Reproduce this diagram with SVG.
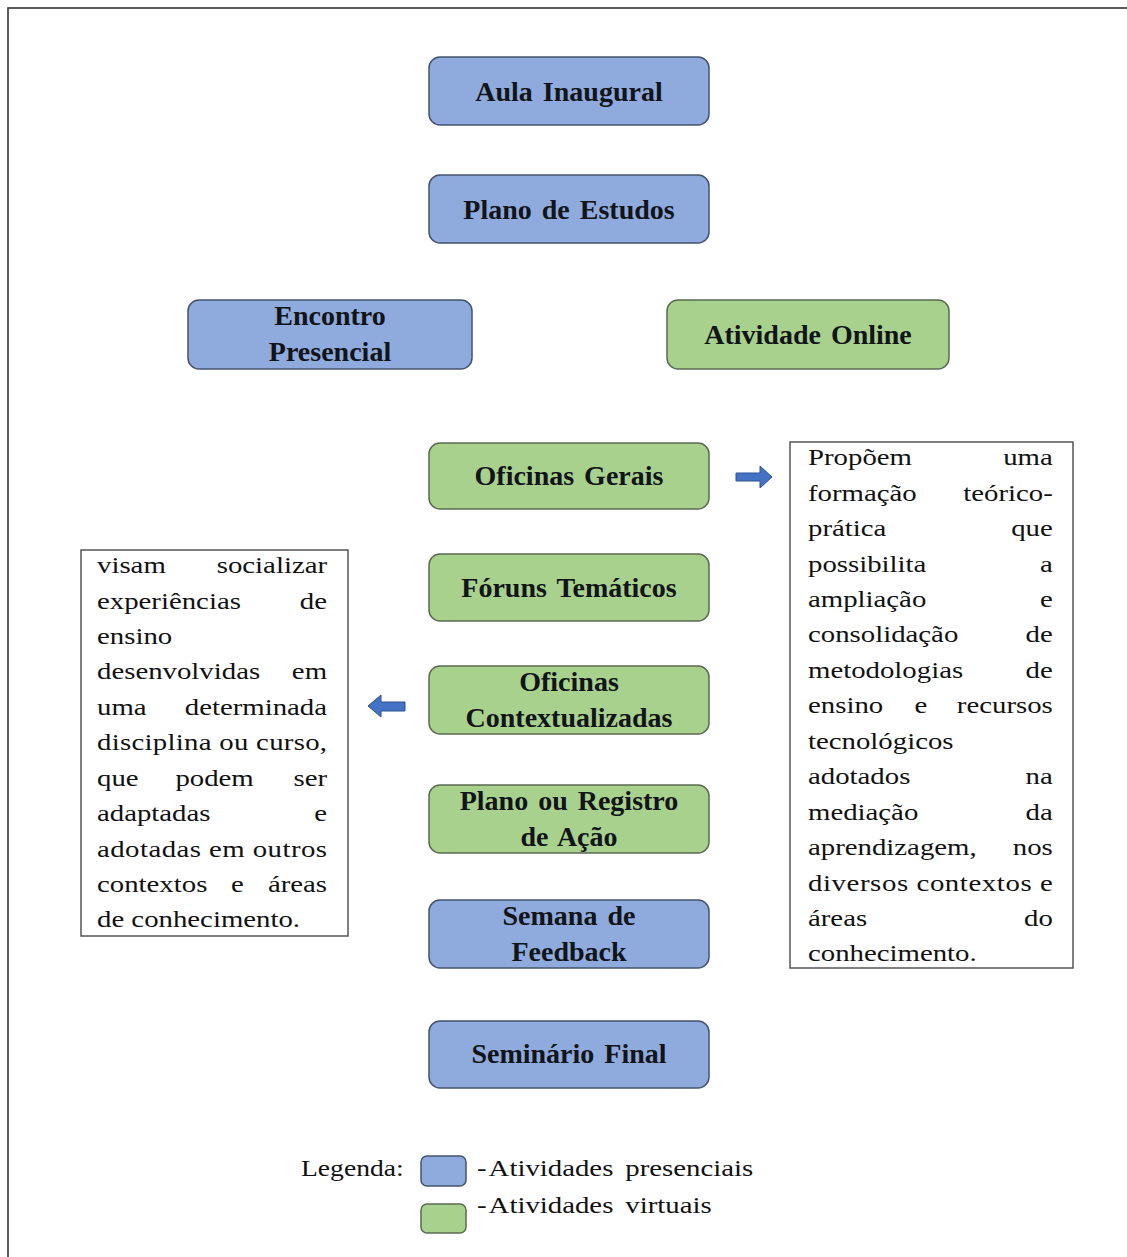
<svg xmlns="http://www.w3.org/2000/svg" width="1127" height="1257" viewBox="0 0 1127 1257">
<style>
.frame{fill:#ffffff;stroke:#333333;stroke-width:1.6}
.blue{fill:#8faadc;stroke:#44546a;stroke-width:1.5}
.green{fill:#a9d18e;stroke:#5b6b52;stroke-width:1.5}
.lbl{font-family:"Liberation Serif","Times New Roman",serif;font-weight:bold;font-size:28px;fill:#111418;text-anchor:middle;word-spacing:3px}
.tbox{fill:#ffffff;stroke:#555555;stroke-width:1.5}
.body{font-family:"Liberation Serif","Times New Roman",serif;font-size:24px;fill:#111111}
.e{text-anchor:end}
.m{text-anchor:middle}
.arrow{fill:#4472c4;stroke:#2f528f;stroke-width:1}
.leg{word-spacing:-3px}
</style>
<rect class="frame" x="8" y="8" width="1140" height="1270"/>

<g id="aula-inaugural"><rect class="blue" x="429" y="57" width="280" height="68" rx="11"/><text class="lbl" x="569" y="101">Aula Inaugural</text></g>
<g id="plano-de-estudos"><rect class="blue" x="429" y="175" width="280" height="68" rx="11"/><text class="lbl" x="569" y="219">Plano de Estudos</text></g>
<g id="encontro-presencial"><rect class="blue" x="188" y="300" width="284" height="69" rx="11"/><text class="lbl" x="330" y="325">Encontro</text><text class="lbl" x="330" y="361">Presencial</text></g>
<g id="atividade-online"><rect class="green" x="667" y="300" width="282" height="69" rx="11"/><text class="lbl" x="808" y="344">Atividade Online</text></g>
<g id="oficinas-gerais"><rect class="green" x="429" y="443" width="280" height="66" rx="11"/><text class="lbl" x="569" y="485">Oficinas Gerais</text></g>
<g id="foruns-tematicos"><rect class="green" x="429" y="554" width="280" height="67" rx="11"/><text class="lbl" x="569" y="597">Fóruns Temáticos</text></g>
<g id="oficinas-contextualizadas"><rect class="green" x="429" y="666" width="280" height="68" rx="11"/><text class="lbl" x="569" y="691">Oficinas</text><text class="lbl" x="569" y="727">Contextualizadas</text></g>
<g id="plano-registro"><rect class="green" x="429" y="785" width="280" height="68" rx="11"/><text class="lbl" x="569" y="810">Plano ou Registro</text><text class="lbl" x="569" y="846">de Ação</text></g>
<g id="semana-feedback"><rect class="blue" x="429" y="900" width="280" height="68" rx="11"/><text class="lbl" x="569" y="925">Semana de</text><text class="lbl" x="569" y="961">Feedback</text></g>
<g id="seminario-final"><rect class="blue" x="429" y="1021" width="280" height="67" rx="11"/><text class="lbl" x="569" y="1063">Seminário Final</text></g>

<g id="texto-oficinas-gerais">
<rect class="tbox" x="790" y="442" width="283" height="526"/>
<g class="body" transform="translate(808,0) scale(1.2,1)">
<text x="0" y="465">Propõem</text><text class="e" x="204" y="465">uma</text>
<text x="0" y="501">formação</text><text class="e" x="204" y="501">teórico-</text>
<text x="0" y="536">prática</text><text class="e" x="204" y="536">que</text>
<text x="0" y="572">possibilita</text><text class="e" x="204" y="572">a</text>
<text x="0" y="607">ampliação</text><text class="e" x="204" y="607">e</text>
<text x="0" y="642">consolidação</text><text class="e" x="204" y="642">de</text>
<text x="0" y="678">metodologias</text><text class="e" x="204" y="678">de</text>
<text x="0" y="713">ensino</text><text class="m" x="94" y="713">e</text><text class="e" x="204" y="713">recursos</text>
<text x="0" y="749">tecnológicos</text>
<text x="0" y="784">adotados</text><text class="e" x="204" y="784">na</text>
<text x="0" y="820">mediação</text><text class="e" x="204" y="820">da</text>
<text x="0" y="855">aprendizagem,</text><text class="e" x="204" y="855">nos</text>
<text x="0" y="891" textLength="204" lengthAdjust="spacing">diversos contextos e</text>
<text x="0" y="926">áreas</text><text class="e" x="204" y="926">do</text>
<text x="0" y="961">conhecimento.</text>
</g>
</g>

<g id="texto-oficinas-contextualizadas">
<rect class="tbox" x="81" y="550" width="267" height="386"/>
<g class="body" transform="translate(97,0) scale(1.2,1)">
<text x="0" y="573">visam</text><text class="e" x="191.7" y="573">socializar</text>
<text x="0" y="609">experiências</text><text class="e" x="191.7" y="609">de</text>
<text x="0" y="644">ensino</text>
<text x="0" y="679">desenvolvidas</text><text class="e" x="191.7" y="679">em</text>
<text x="0" y="715">uma</text><text class="e" x="191.7" y="715">determinada</text>
<text x="0" y="750" textLength="191.7" lengthAdjust="spacing">disciplina ou curso,</text>
<text x="0" y="786">que</text><text class="m" x="98" y="786">podem</text><text class="e" x="191.7" y="786">ser</text>
<text x="0" y="821">adaptadas</text><text class="e" x="191.7" y="821">e</text>
<text x="0" y="857" textLength="191.7" lengthAdjust="spacing">adotadas em outros</text>
<text x="0" y="892">contextos</text><text class="m" x="117" y="892">e</text><text class="e" x="191.7" y="892">áreas</text>
<text x="0" y="927">de conhecimento.</text>
</g>
</g>

<g id="connectors">
<path class="arrow" d="M736,473 L760,473 L760,466 L772,477 L760,488 L760,481 L736,481 Z"/>
<path class="arrow" d="M405,702 L381,702 L381,695 L368,706 L381,717 L381,711 L405,711 Z"/>
</g>

<g id="legenda">
<g class="body" transform="translate(301,0) scale(1.15,1)"><text x="0" y="1176">Legenda:</text></g>
<rect class="blue" x="421" y="1156" width="45" height="30" rx="6"/>
<rect class="green" x="421" y="1204" width="45" height="29" rx="6"/>
<g class="body" transform="translate(477,0) scale(1.2,1)"><text class="leg" x="0" y="1176">- Atividades<tspan dx="10">presenciais</tspan></text><text class="leg" x="0" y="1213">- Atividades<tspan dx="10">virtuais</tspan></text></g>
</g>
</svg>
